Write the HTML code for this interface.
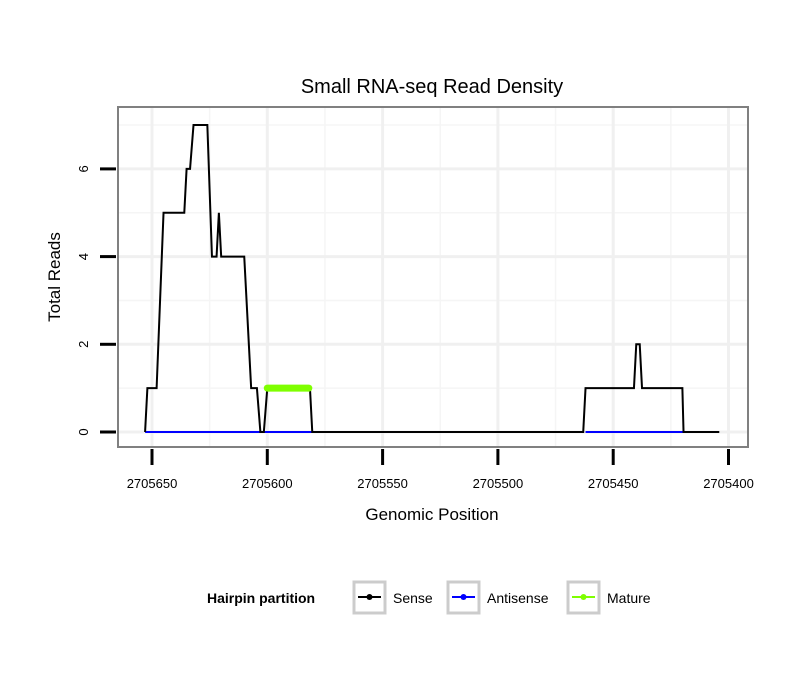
<!DOCTYPE html>
<html><head><meta charset="utf-8"><style>
body{margin:0;background:#fff;font-family:"Liberation Sans",sans-serif}
svg text{font-family:"Liberation Sans",sans-serif}
</style></head><body>
<svg id="chart" width="810" height="690">
<rect width="810" height="690" fill="#fff"/>
<text x="432" y="93" font-size="20" text-anchor="middle">Small RNA-seq Read Density</text>
<g id="grid"></g>
<rect x="118" y="107" width="630" height="340" fill="none" stroke="#808080" stroke-width="2"/>
<g id="marks"></g>
<g id="axes"></g>
<text x="432" y="520" font-size="17" text-anchor="middle">Genomic Position</text>
<text transform="translate(60,277) rotate(-90)" font-size="17" text-anchor="middle">Total Reads</text>
<g>
<text x="207" y="603" font-size="14" font-weight="bold">Hairpin partition</text>
<g>
<rect x="354" y="582" width="31" height="31" fill="#fff" stroke="#ccc" stroke-width="3"/>
<line x1="358" y1="597" x2="381" y2="597" stroke="#000" stroke-width="2"/><circle cx="369.5" cy="597" r="3" fill="#000"/>
<text x="393" y="603" font-size="14">Sense</text></g>
<g>
<rect x="448" y="582" width="31" height="31" fill="#fff" stroke="#ccc" stroke-width="3"/>
<line x1="452" y1="597" x2="475" y2="597" stroke="#00f" stroke-width="2"/><circle cx="463.5" cy="597" r="3" fill="#00f"/>
<text x="487" y="603" font-size="14">Antisense</text></g>
<g>
<rect x="568" y="582" width="31" height="31" fill="#fff" stroke="#ccc" stroke-width="3"/>
<line x1="572" y1="597" x2="595" y2="597" stroke="#7fff00" stroke-width="2"/><circle cx="583.5" cy="597" r="3" fill="#7fff00"/>
<text x="607" y="603" font-size="14">Mature</text></g>
</g>
</svg>
<script>
const xTicks=[2705650,2705600,2705550,2705500,2705450,2705400];
const yTicks=[0,2,4,6];
const sensePos=[2705653,2705652,2705648,2705645,2705636,2705635,2705633.5,2705632,2705626,2705624,2705622,2705621,2705620,2705610,2705607,2705604.5,2705603,2705601.5,2705600,2705581.5,2705580.5,2705463,2705462,2705441,2705440,2705438.5,2705437.5,2705420,2705419.5,2705404];
const senseVal=[0,1,1,5,5,6,6,7,7,4,4,5,4,4,1,1,0,0,1,1,0,0,1,1,2,2,1,1,0,0];
const antiPos=[[2705653,2705580.5],[2705462,2705419.5]];
const antiVal=[0,0];
const maturePos=[2705600,2705582];
const matureVal=[1,1];
const X=v=>152+(2705650-v)*2.306;
const Y=v=>432-v*43.85;
const NS="http://www.w3.org/2000/svg";
function mk(tag,attrs,parent){const e=document.createElementNS(NS,tag);for(const k in attrs)e.setAttribute(k,attrs[k]);parent.appendChild(e);return e;}
const grid=document.getElementById('grid'),marks=document.getElementById('marks'),axes=document.getElementById('axes');
[2705625,2705575,2705525,2705475,2705425].forEach(v=>{const l=mk('line',{x1:X(v),x2:X(v),y1:108,y2:446,stroke:'#f5f5f5','stroke-width':1.5},grid);

});
[1,3,5,7].forEach(v=>{const l=mk('line',{x1:119,x2:747,y1:Y(v),y2:Y(v),stroke:'#f5f5f5','stroke-width':1.5},grid);

});
xTicks.forEach(v=>{const l=mk('line',{x1:X(v),x2:X(v),y1:108,y2:446,stroke:'#f0f0f0','stroke-width':3},grid);


const t=mk('line',{x1:X(v),x2:X(v),y1:449,y2:465,stroke:'#000','stroke-width':3},axes);


const tx=mk('text',{x:X(v),y:488,'font-size':13,'text-anchor':'middle'},axes);tx.textContent=v;

});
yTicks.forEach(v=>{const l=mk('line',{x1:119,x2:747,y1:Y(v),y2:Y(v),stroke:'#f0f0f0','stroke-width':3},grid);


const t=mk('line',{x1:100,x2:116,y1:Y(v),y2:Y(v),stroke:'#000','stroke-width':3},axes);


const tx=mk('text',{transform:`translate(88,${Y(v)}) rotate(-90)`,'font-size':13,'text-anchor':'middle'},axes);tx.textContent=v;

});
antiPos.forEach((r,i)=>{const l=mk('line',{x1:X(r[0]),x2:X(r[1]),y1:Y(antiVal[i]),y2:Y(antiVal[i]),stroke:'#00f','stroke-width':2},marks);

});
const sp=mk('polyline',{points:sensePos.map((p,i)=>X(p)+','+Y(senseVal[i])).join(' '),fill:'none',stroke:'#000','stroke-width':2},marks);


const mp=mk('polyline',{points:maturePos.map((p,i)=>X(p)+','+Y(matureVal[i])).join(' '),fill:'none',stroke:'#7fff00','stroke-width':7,'stroke-linecap':'round'},marks);


</script>
</body></html>
